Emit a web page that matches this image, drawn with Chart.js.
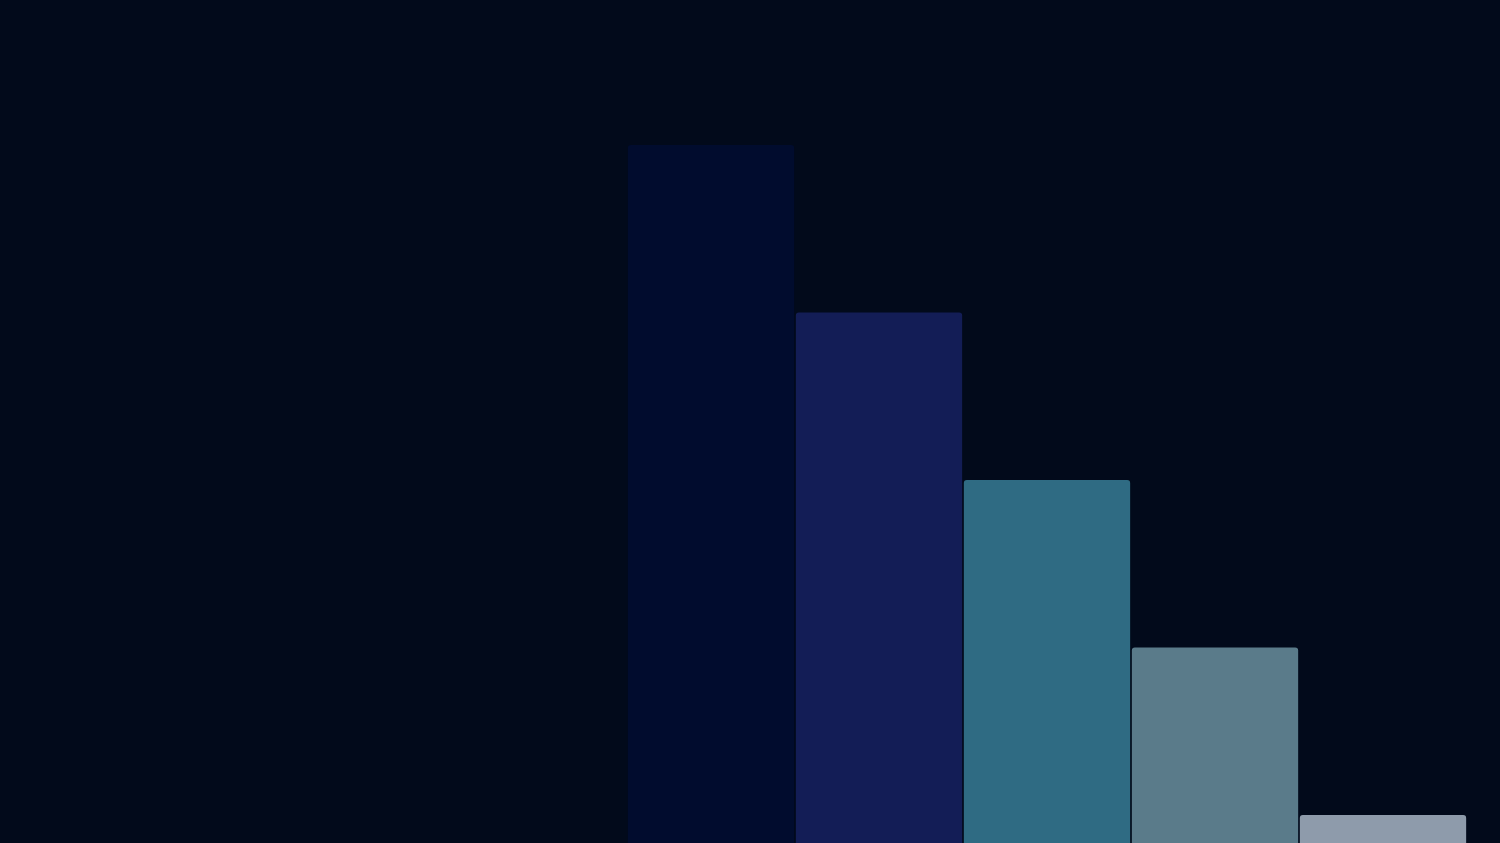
<!DOCTYPE html>
<html>
<head>
<meta charset="utf-8">
<script src="https://cdn.jsdelivr.net/npm/chart.js@4"></script>
<style>
  html, body { margin: 0; padding: 0; background: #020a1b; overflow: hidden; }
  #wrap { width: 1500px; height: 843px; position: relative; }
</style>
</head>
<body>
<div id="wrap"><canvas id="grafico"></canvas></div>
<script>
// datos del gráfico
const categorias = ['A', 'B', 'C', 'D', 'E'];
const valores = [100, 76, 52, 28, 4];
const colores = ['#010c2e', '#131d56', '#2f6b83', '#5a7b8a', '#8e9bab'];

const ctx = document.getElementById('grafico').getContext('2d');
new Chart(ctx, {
  type: 'bar',
  data: {
    labels: categorias,
    datasets: [{
      data: valores,
      backgroundColor: colores,
      borderWidth: 0,
      borderRadius: 3,
      barPercentage: 0.99,
      categoryPercentage: 1
    }]
  },
  options: {
    responsive: true,
    maintainAspectRatio: false,
    animation: false,
    layout: { padding: { left: 627, right: 33, top: 145, bottom: 0 } },
    plugins: { legend: { display: false }, tooltip: { enabled: false } },
    scales: {
      x: { display: false },
      y: { display: false, min: 0, max: 100 }
    }
  }
});
</script>
</body>
</html>
